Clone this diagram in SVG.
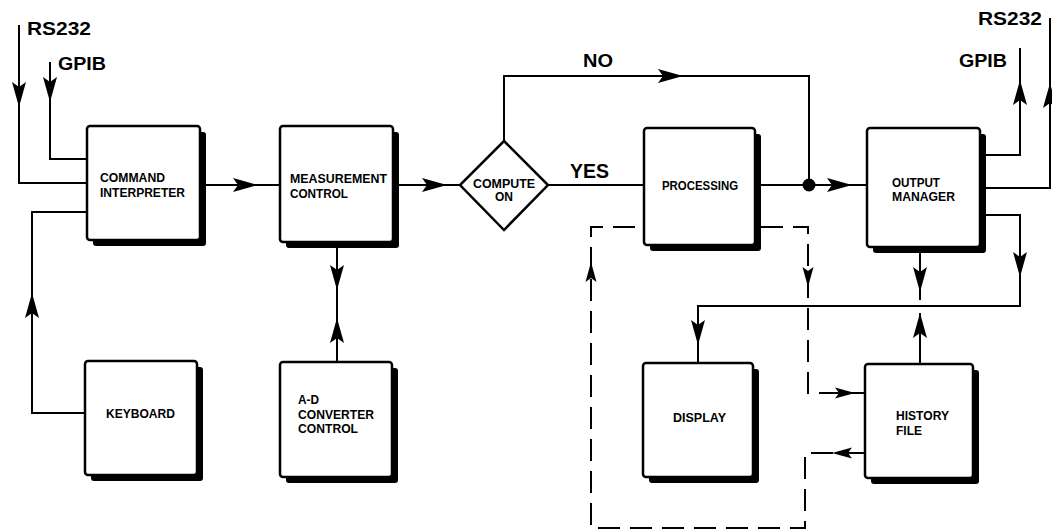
<svg xmlns="http://www.w3.org/2000/svg" xmlns:xlink="http://www.w3.org/1999/xlink" width="1052" height="532" viewBox="0 0 1052 532">
<style>
.box{fill:#fff;stroke:#000;stroke-width:2.5}
.sh{fill:#000}
.ln{fill:none;stroke:#000;stroke-width:2}
.dash{fill:none;stroke:#000;stroke-width:2;stroke-dasharray:22 10}
.t{font-family:"Liberation Sans",Arial,sans-serif;font-weight:bold;font-size:13px;fill:#000}
.big{font-family:"Liberation Sans",Arial,sans-serif;font-weight:bold;font-size:18px;fill:#000}
</style>
<defs>
<path id="ah" d="M0,0 L-25,-7 L-20,0 L-25,7 Z" fill="#000"/>
<path id="ahs" d="M0,0 L-20,-5.5 L-16,0 L-20,5.5 Z" fill="#000"/>
</defs>
<rect width="1052" height="532" fill="#fff"/>

<g id="connectors">
  <path class="ln" d="M19,25 V183 H87"/>
  <use href="#ah" transform="translate(19,107) rotate(90)"/>
  <path class="ln" d="M50,62 V159 H87"/>
  <use href="#ah" transform="translate(50,102) rotate(90)"/>
  <path class="ln" d="M85,413 H32 V212 H87"/>
  <use href="#ah" transform="translate(32,293) rotate(-90)"/>
  <path class="ln" d="M205,185 H280"/>
  <use href="#ah" transform="translate(258,185)"/>
  <path class="ln" d="M398,185 H460"/>
  <use href="#ah" transform="translate(447,185)"/>
  <path class="ln" d="M337,248 V362"/>
  <use href="#ah" transform="translate(337,290) rotate(90)"/>
  <use href="#ah" transform="translate(337,318) rotate(-90)"/>
  <path class="ln" d="M548,185 H644"/>
  <path class="ln" d="M504,141 V76 H809 V185"/>
  <use href="#ah" transform="translate(683,76)"/>
  <path class="ln" d="M761,185 H867"/>
  <circle cx="809" cy="185" r="6.5" fill="#000"/>
  <use href="#ah" transform="translate(852,185)"/>
  <path class="ln" d="M985,155 H1020 V48"/>
  <use href="#ah" transform="translate(1020,80) rotate(-90)"/>
  <path class="ln" d="M985,188 H1050 V18"/>
  <use href="#ah" transform="translate(1050,83) rotate(-90)"/>
  <path class="ln" d="M985,215 H1020 V306 H698 V363"/>
  <use href="#ah" transform="translate(1020,277) rotate(90)"/>
  <use href="#ah" transform="translate(698,345) rotate(90)"/>
  <path class="ln" d="M920,252 V300"/>
  <use href="#ah" transform="translate(920,292) rotate(90)"/>
  <path class="ln" d="M920,364 V313"/>
  <use href="#ah" transform="translate(920,313) rotate(-90)"/>
  <path class="dash" d="M865,453 H805 V528 H591 V227 H644"/>
  <use href="#ahs" transform="translate(591,262) rotate(-90)"/>
  <use href="#ahs" transform="translate(832,453) rotate(180)"/>
  <path class="dash" d="M761,227 H808 V393 H865"/>
  <use href="#ahs" transform="translate(808,287) rotate(90)"/>
  <use href="#ahs" transform="translate(855,393)"/>
  <text class="big" x="27" y="35" textLength="64" lengthAdjust="spacingAndGlyphs">RS232</text>
  <text class="big" x="58" y="70" textLength="48" lengthAdjust="spacingAndGlyphs">GPIB</text>
  <text class="big" x="583" y="67" textLength="30" lengthAdjust="spacingAndGlyphs">NO</text>
  <text class="big" x="570" y="178" style="font-size:20px" textLength="39" lengthAdjust="spacingAndGlyphs">YES</text>
  <text class="big" x="959" y="67" textLength="48" lengthAdjust="spacingAndGlyphs">GPIB</text>
  <text class="big" x="978" y="25" textLength="64" lengthAdjust="spacingAndGlyphs">RS232</text>
</g>

<g id="ci">
  <rect class="sh" x="93" y="132" width="113" height="114" rx="3"/>
  <rect class="box" x="87" y="126" width="113" height="114" rx="3"/>
  <text class="t" x="100" y="182" textLength="65" lengthAdjust="spacingAndGlyphs">COMMAND</text>
  <text class="t" x="100" y="197" textLength="85" lengthAdjust="spacingAndGlyphs">INTERPRETER</text>
</g>
<g id="mc">
  <rect class="sh" x="286" y="132" width="113" height="116" rx="3"/>
  <rect class="box" x="280" y="126" width="113" height="116" rx="3"/>
  <text class="t" x="290" y="183" textLength="97" lengthAdjust="spacingAndGlyphs">MEASUREMENT</text>
  <text class="t" x="290" y="198" textLength="58" lengthAdjust="spacingAndGlyphs">CONTROL</text>
</g>
<g id="compute">
  <polygon class="box" points="504,141 548,185 504,230 460,185"/>
  <text class="t" x="504" y="188" text-anchor="middle" textLength="62" lengthAdjust="spacingAndGlyphs">COMPUTE</text>
  <text class="t" x="504" y="201" text-anchor="middle" textLength="18" lengthAdjust="spacingAndGlyphs">ON</text>
</g>
<g id="proc">
  <rect class="sh" x="650" y="134" width="111" height="117" rx="3"/>
  <rect class="box" x="644" y="128" width="111" height="117" rx="3"/>
  <text class="t" x="662" y="190" textLength="76" lengthAdjust="spacingAndGlyphs">PROCESSING</text>
</g>
<g id="out">
  <rect class="sh" x="873" y="134" width="113" height="119" rx="3"/>
  <rect class="box" x="867" y="128" width="113" height="119" rx="3"/>
  <text class="t" x="892" y="187" textLength="48" lengthAdjust="spacingAndGlyphs">OUTPUT</text>
  <text class="t" x="892" y="201" textLength="63" lengthAdjust="spacingAndGlyphs">MANAGER</text>
</g>
<g id="kbd">
  <rect class="sh" x="91" y="367" width="112" height="114" rx="3"/>
  <rect class="box" x="85" y="361" width="112" height="114" rx="3"/>
  <text class="t" x="106" y="418" textLength="69" lengthAdjust="spacingAndGlyphs">KEYBOARD</text>
</g>
<g id="adc">
  <rect class="sh" x="286" y="368" width="112" height="115" rx="3"/>
  <rect class="box" x="280" y="362" width="112" height="115" rx="3"/>
  <text class="t" x="298" y="404" textLength="21" lengthAdjust="spacingAndGlyphs">A-D</text>
  <text class="t" x="298" y="419" textLength="76" lengthAdjust="spacingAndGlyphs">CONVERTER</text>
  <text class="t" x="298" y="433" textLength="60" lengthAdjust="spacingAndGlyphs">CONTROL</text>
</g>
<g id="disp">
  <rect class="sh" x="649" y="369" width="110" height="114" rx="3"/>
  <rect class="box" x="643" y="363" width="110" height="114" rx="3"/>
  <text class="t" x="673" y="422" textLength="53" lengthAdjust="spacingAndGlyphs">DISPLAY</text>
</g>
<g id="hist">
  <rect class="sh" x="871" y="370" width="108" height="114" rx="3"/>
  <rect class="box" x="865" y="364" width="108" height="114" rx="3"/>
  <text class="t" x="896" y="420" textLength="53" lengthAdjust="spacingAndGlyphs">HISTORY</text>
  <text class="t" x="896" y="435" textLength="26" lengthAdjust="spacingAndGlyphs">FILE</text>
</g>
</svg>
